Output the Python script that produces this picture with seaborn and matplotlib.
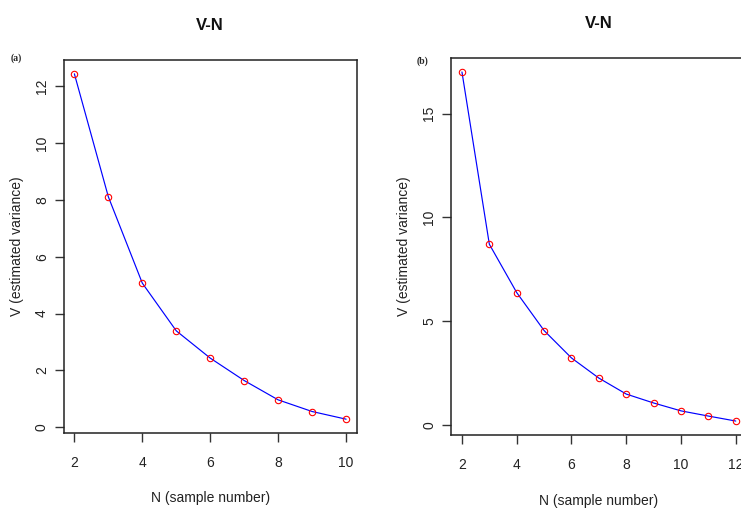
import matplotlib
matplotlib.use("Agg")
import matplotlib.pyplot as plt
from matplotlib import font_manager
import seaborn as sns
import pandas as pd

# ---- data ----
n_a = [2, 3, 4, 5, 6, 7, 8, 9, 10]
v_a = [12.44, 8.11, 5.07, 3.39, 2.43, 1.64, 0.96, 0.55, 0.28]
n_b = [2, 3, 4, 5, 6, 7, 8, 9, 10, 11, 12]
v_b = [17.01, 8.71, 6.38, 4.55, 3.23, 2.26, 1.49, 1.06, 0.68, 0.43, 0.19]
xticks_a = [2, 4, 6, 8, 10]
yticks_a = [0, 2, 4, 6, 8, 10, 12]
xticks_b = [2, 4, 6, 8, 10, 12]
yticks_b = [0, 5, 10, 15]
title = "V-N"
xlabel = "N (sample number)"
ylabel = "V (estimated variance)"
panel_labels = ["(a)", "(b)"]

sns.set_style("white")
names = {f.name for f in font_manager.fontManager.ttflist}
fam = "Liberation Sans"
for cand in ["Liberation Sans Narrow", "DejaVu Sans Condensed"]:
    if cand in names:
        fam = cand
        break
plt.rcParams["font.family"] = [fam, "DejaVu Sans"]

W, H = 741, 509
fig = plt.figure(figsize=(W / 100, H / 100), dpi=100)

def px_axes(l, t, r, b):
    return fig.add_axes([l / W, 1 - b / H, (r - l) / W, (b - t) / H])

ax_a = px_axes(63.5, 60, 357, 433)
ax_b = px_axes(451, 58, 746.7, 435)

panels = [
    (ax_a, n_a, v_a, xticks_a, yticks_a, panel_labels[0]),
    (ax_b, n_b, v_b, xticks_b, yticks_b, panel_labels[1]),
]

for ax, n, v, xt, yt, pl in panels:
    df = pd.DataFrame({"N": n, "V": v})
    sns.lineplot(data=df, x="N", y="V", ax=ax, color="blue", linewidth=0.85,
                 marker="o", markersize=4.6, markerfacecolor="none",
                 markeredgecolor="red", markeredgewidth=0.8)
    xr = max(n) - min(n)
    yr = max(v) - min(v)
    ax.set_xlim(min(n) - 0.04 * xr, max(n) + 0.04 * xr)
    ax.set_ylim(min(v) - 0.04 * yr, max(v) + 0.04 * yr)
    ax.set_xticks(xt)
    ax.set_yticks(yt)
    ax.set_xticklabels([str(t) for t in xt], fontsize=10, color="#222222")
    ax.set_yticklabels([str(t) for t in yt], fontsize=10, color="#222222",
                       rotation=90, va="center")
    ax.tick_params(axis="both", direction="out", length=6.5, width=1.0,
                   color="#333333", left=True, bottom=True)
    ax.tick_params(axis="x", pad=10)
    ax.tick_params(axis="y", pad=4)
    for s in ax.spines.values():
        s.set_visible(True)
        s.set_color("#222222")
        s.set_linewidth(1.1)
    ax.set_xlabel(xlabel, fontsize=10, color="#222222")
    ax.set_ylabel(ylabel, fontsize=10, color="#222222")
    ax.set_facecolor("white")

ax_a.xaxis.set_label_coords(0.5, -0.156)
ax_a.yaxis.set_label_coords(-0.133, 0.5)
ax_b.xaxis.set_label_coords(0.5, -0.156)
ax_b.yaxis.set_label_coords(-0.134, 0.5)

# titles (figure pixel positions)
fig.text(210 / W, 1 - 25 / H, title, ha="center", va="center",
         fontsize=12, fontweight="bold", color="#111111")
fig.text(599 / W, 1 - 23 / H, title, ha="center", va="center",
         fontsize=12, fontweight="bold", color="#111111")
fig.text(16 / W, 1 - 58 / H, panel_labels[0], ha="center", va="center",
         fontsize=7, fontweight="bold", family="Liberation Serif")
fig.text(423 / W, 1 - 61 / H, panel_labels[1], ha="center", va="center",
         fontsize=7, fontweight="bold", family="Liberation Serif")

fig.savefig("out.png", dpi=100, facecolor="white")
